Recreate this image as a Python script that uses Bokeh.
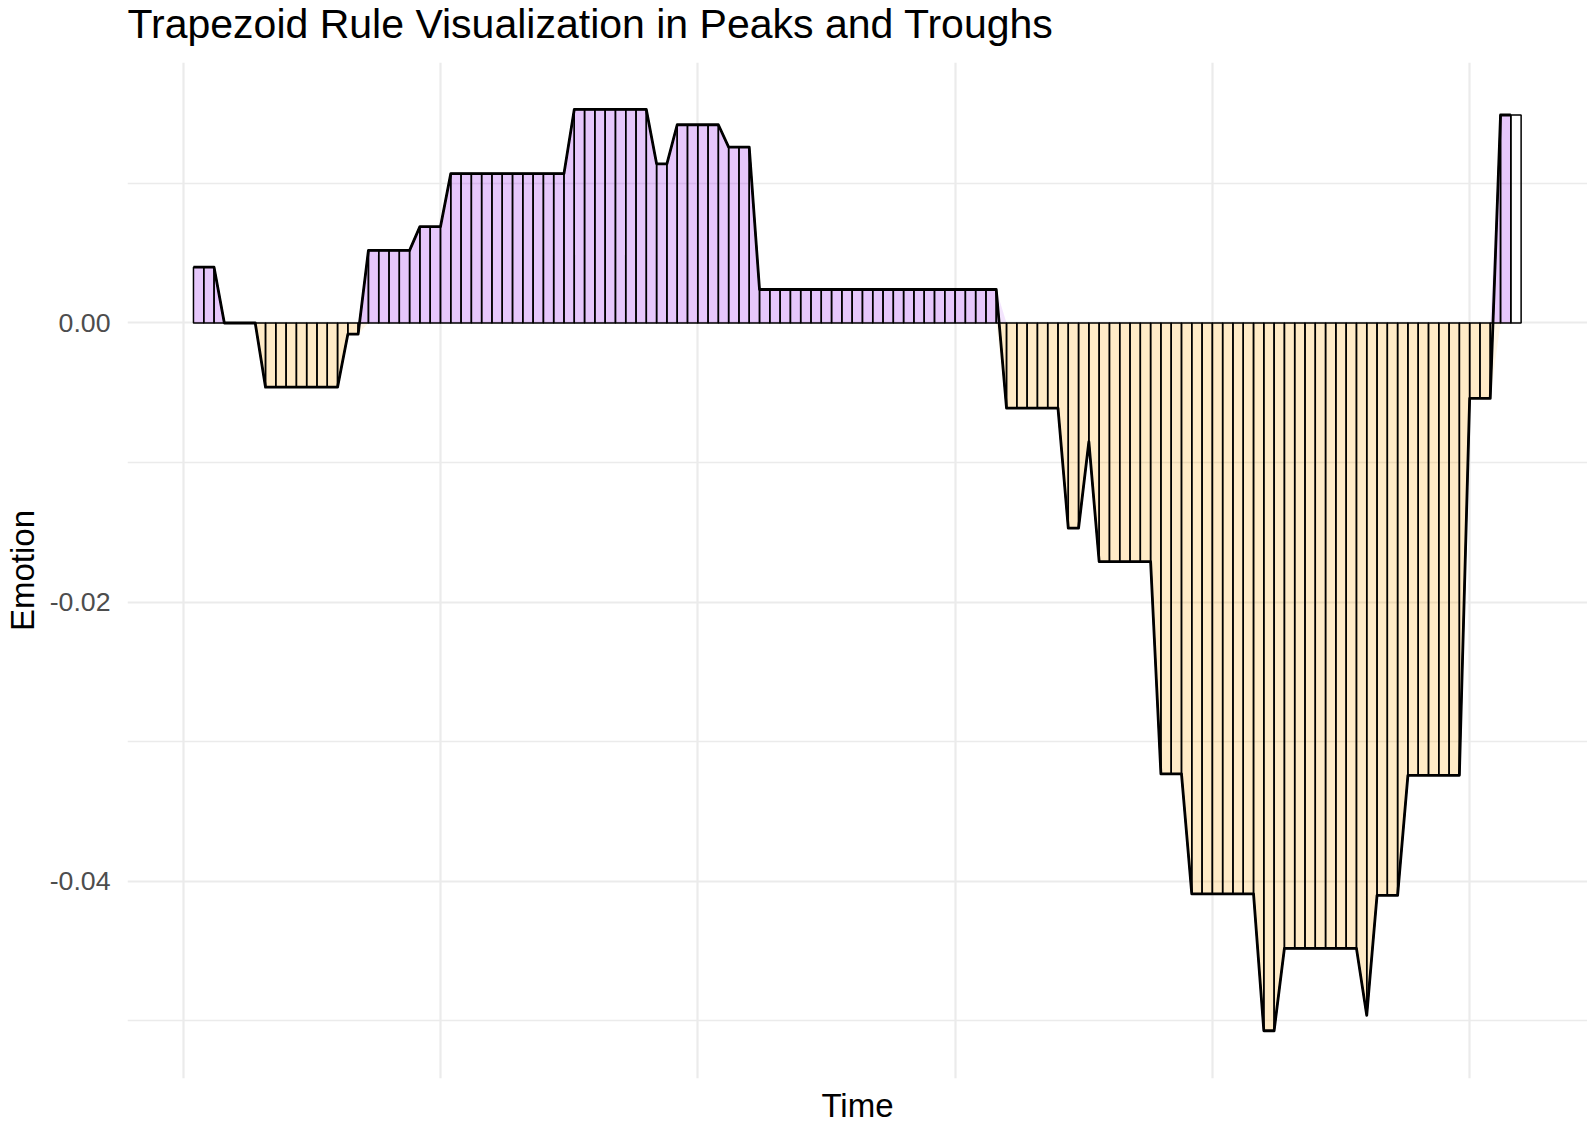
import numpy as np
from bokeh.plotting import figure
from bokeh.models import Range1d, FixedTicker, Title
from bokeh.embed import file_html
from bokeh.resources import INLINE

# ---- data ----
time = list(range(1, 130))
emotion = [
    0.0040, 0.0040, 0.0040,
    0.0000, 0.0000, 0.0000, 0.0000,
    -0.0046, -0.0046, -0.0046, -0.0046, -0.0046, -0.0046, -0.0046, -0.0046,
    -0.0008, -0.0008,
    0.0052, 0.0052, 0.0052, 0.0052, 0.0052,
    0.0069, 0.0069, 0.0069,
    0.0107, 0.0107, 0.0107, 0.0107, 0.0107, 0.0107, 0.0107, 0.0107, 0.0107, 0.0107, 0.0107, 0.0107,
    0.0153, 0.0153, 0.0153, 0.0153, 0.0153, 0.0153, 0.0153, 0.0153,
    0.0114, 0.0114,
    0.0142, 0.0142, 0.0142, 0.0142, 0.0142,
    0.0126, 0.0126, 0.0126,
    0.0024, 0.0024, 0.0024, 0.0024, 0.0024, 0.0024, 0.0024, 0.0024, 0.0024, 0.0024, 0.0024, 0.0024,
    0.0024, 0.0024, 0.0024, 0.0024, 0.0024, 0.0024, 0.0024, 0.0024, 0.0024, 0.0024, 0.0024, 0.0024,
    -0.0061, -0.0061, -0.0061, -0.0061, -0.0061, -0.0061,
    -0.0147, -0.0147,
    -0.0085,
    -0.0171, -0.0171, -0.0171, -0.0171, -0.0171, -0.0171,
    -0.0323, -0.0323, -0.0323,
    -0.0409, -0.0409, -0.0409, -0.0409, -0.0409, -0.0409, -0.0409,
    -0.0507, -0.0507,
    -0.0448, -0.0448, -0.0448, -0.0448, -0.0448, -0.0448, -0.0448, -0.0448,
    -0.0496,
    -0.0410, -0.0410, -0.0410,
    -0.0324, -0.0324, -0.0324, -0.0324, -0.0324, -0.0324,
    -0.0054, -0.0054, -0.0054,
    0.0149, 0.0149,
]
y_ticks = [0.0, -0.02, -0.04]
y_tick_labels = ["0.00", "-0.02", "-0.04"]
y_minor = [0.01, -0.01, -0.03, -0.05]
x_breaks = [0, 25, 50, 75, 100, 125]

title_text = "Trapezoid Rule Visualization in Peaks and Troughs"
x_label = "Time"
y_label = "Emotion"

POS_COLOR = "#A020F0"   # purple
NEG_COLOR = "#FFA500"   # orange

X_MIN, X_MAX = -5.41, 136.45
Y_MIN, Y_MAX = -0.05412, 0.01866

# ---- derived geometry ----
t = np.array(time, dtype=float)
y = np.array(emotion, dtype=float)

# trapezoids between consecutive points (last one carried one step further)
t_next = np.append(t[1:], t[-1] + 1)
y_next = np.append(y[1:], y[-1])
trap_xs = [[a, a, b, b] for a, b in zip(t, t_next)]
trap_ys = [[0.0, ya, yb, 0.0] for ya, yb in zip(y, y_next)]

# exact signed area with zero crossings inserted
fx, fy = [t[0]], [y[0]]
for i in range(len(t) - 1):
    if y[i] * y[i + 1] < 0:
        xc = t[i] + (t[i + 1] - t[i]) * y[i] / (y[i] - y[i + 1])
        fx.append(xc)
        fy.append(0.0)
    fx.append(t[i + 1])
    fy.append(y[i + 1])
fx = np.array(fx)
fy = np.array(fy)

# ---- figure ----
p = figure(
    width=1587, height=1126,
    output_backend="svg", toolbar_location=None,
    x_range=Range1d(X_MIN, X_MAX), y_range=Range1d(Y_MIN, Y_MAX),
    min_border_left=127, min_border_right=0, min_border_top=62, min_border_bottom=48,
)
p.background_fill_color = "white"
p.border_fill_color = "white"
p.outline_line_color = None

# small spacer between panel and title, then the title itself (stacked outward)
spacer = Title(text=" ", text_font_size="1px", text_color="white", standoff=11)
p.add_layout(spacer, "above")
main_title = Title(
    text=title_text, text_font="Liberation Sans", text_font_size="41px",
    text_font_style="normal", text_color="black",
    align="left", vertical_align="top", offset=0, standoff=0,
)
p.add_layout(main_title, "above")

# grids
p.xgrid.ticker = FixedTicker(ticks=x_breaks)
p.xgrid.grid_line_color = "#EBEBEB"
p.xgrid.grid_line_width = 2.2
p.yaxis.ticker = FixedTicker(ticks=y_ticks, minor_ticks=y_minor)
p.ygrid.grid_line_color = "#EBEBEB"
p.ygrid.grid_line_width = 2.2
p.ygrid.minor_grid_line_color = "#EBEBEB"
p.ygrid.minor_grid_line_width = 1.5

# axes
p.xaxis.ticker = FixedTicker(ticks=[])
for ax in (p.xaxis[0], p.yaxis[0]):
    ax.axis_line_color = None
    ax.major_tick_line_color = None
    ax.minor_tick_line_color = None
    ax.major_tick_out = 0
    ax.major_tick_in = 0
    ax.minor_tick_out = 0
    ax.minor_tick_in = 0
    ax.axis_label_text_font = "Liberation Sans"
    ax.axis_label_text_font_size = "33px"
    ax.axis_label_text_font_style = "normal"
    ax.axis_label_text_color = "black"
    ax.major_label_text_font = "Liberation Sans"
    ax.major_label_text_font_size = "26.7px"
    ax.major_label_text_color = "#4D4D4D"

p.yaxis.major_label_overrides = {v: s for v, s in zip(y_ticks, y_tick_labels)}
p.yaxis.major_label_standoff = 17
p.yaxis.axis_label = y_label
p.yaxis.axis_label_standoff = 6
p.xaxis.axis_label = x_label
p.xaxis.major_label_standoff = 0
p.xaxis.axis_label_standoff = 8

# faint ribbons (pmax / pmin of the points)
p.varea(x=t, y1=0, y2=np.maximum(y, 0), fill_color=POS_COLOR, fill_alpha=0.12)
p.varea(x=t, y1=np.minimum(y, 0), y2=0, fill_color=NEG_COLOR, fill_alpha=0.10)
# exact signed areas
p.varea(x=fx, y1=0, y2=np.maximum(fy, 0), fill_color=POS_COLOR, fill_alpha=0.15)
p.varea(x=fx, y1=np.minimum(fy, 0), y2=0, fill_color=NEG_COLOR, fill_alpha=0.13)

# trapezoid outlines
p.patches(xs=trap_xs, ys=trap_ys, fill_alpha=0, line_color="black", line_width=1.5)
# emotion line
p.line(x=t, y=y, line_color="black", line_width=2.8, line_join="round")

open("out.html", "w").write(file_html(p, INLINE))
